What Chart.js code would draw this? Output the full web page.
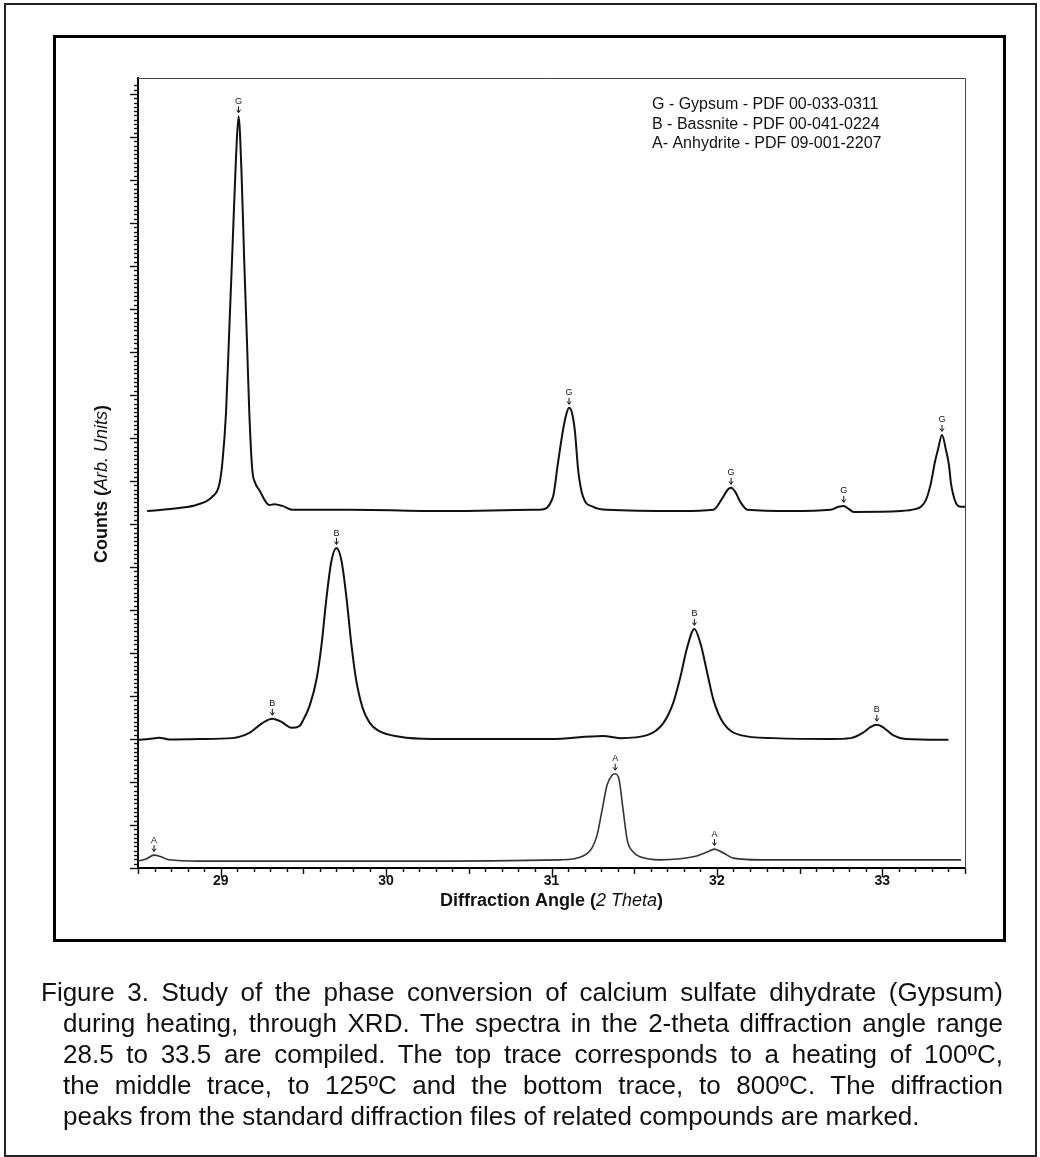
<!DOCTYPE html>
<html>
<head>
<meta charset="utf-8">
<script src="https://cdn.jsdelivr.net/npm/chart.js@4.4.1/dist/chart.umd.min.js"></script>
<style>
html, body { margin: 0; padding: 0; background: #fff; }
body { width: 1040px; height: 1157px; position: relative; overflow: hidden; font-family: "Liberation Sans", Arial, sans-serif; }
#outer { position: absolute; left: 4px; top: 3px; width: 1029px; height: 1150px; border: 2px solid #222; }
#frame { position: absolute; left: 53px; top: 35px; width: 947px; height: 901px; border: 3px solid #000; }
#xrd { position: absolute; left: 0; top: 0; }
#caption { position: absolute; left: 63px; top: 977px; width: 940px; font-size: 26px; line-height: 31px; color: #111; }
#caption div { text-align: justify; text-align-last: justify; white-space: nowrap; }
#caption div.first { margin-left: -22px; }
#caption div.last { text-align-last: left; }
</style>
</head>
<body>
<div id="outer"></div>
<div id="frame"></div>
<canvas id="xrd" width="1040" height="1157"></canvas>
<div id="caption">
  <div class="first">Figure 3. Study of the phase conversion of calcium sulfate dihydrate (Gypsum)</div>
  <div>during heating, through XRD. The spectra in the 2-theta diffraction angle range</div>
  <div>28.5 to 33.5 are compiled. The top trace corresponds to a heating of 100ºC,</div>
  <div>the middle trace, to 125ºC and the bottom trace, to 800ºC. The diffraction</div>
  <div class="last">peaks from the standard diffraction files of related compounds are marked.</div>
</div>
<script>
// axis ranges (y in arbitrary count units)
var xMin = 28.5, xMax = 33.5;
var yMin = 0, yMax = 183.7;
var xTickLabels = [29, 30, 31, 32, 33];

// top trace - 100 C (gypsum)
var gypsumX = [28.555, 28.748, 28.852, 28.948, 28.991, 29.010, 29.032, 29.052, 29.072, 29.092, 29.108, 29.126,
  29.142, 29.159, 29.173, 29.191, 29.209, 29.233, 29.294, 29.324, 29.373, 29.433, 29.779, 30.385, 30.888,
  30.930, 31.009, 31.039, 31.070, 31.088, 31.106, 31.124, 31.142, 31.161, 31.191, 31.252, 31.336, 31.779,
  31.979, 32.033, 32.064, 32.086, 32.112, 32.142, 32.185, 32.445, 32.688, 32.736, 32.767, 32.797, 32.827,
  33.112, 33.203, 33.233, 33.264, 33.294, 33.318, 33.336, 33.361, 33.385, 33.403, 33.415, 33.445, 33.476, 33.5];
var gypsumY = [83.0, 83.7, 84.4, 86.3, 89.1, 94.2, 105.8, 125.3, 144.9, 164.7, 174.8, 161.6,
  141.4, 122.3, 105.8, 92.6, 89.5, 87.9, 84.4, 84.6, 84.2, 83.3, 83.3, 83.0, 83.3,
  83.3, 86.3, 94.2, 101.9, 105.3, 107.0, 105.8, 101.4, 92.6, 86.3, 84.0, 83.3, 83.0,
  83.3, 86.0, 87.9, 88.4, 87.4, 85.1, 83.3, 83.0, 83.3, 84.0, 84.2, 83.5, 82.8,
  83.0, 83.5, 84.0, 85.6, 89.5, 94.4, 97.2, 100.7, 97.2, 93.7, 89.5, 84.9, 84.0, 84.0];

// middle trace - 125 C (bassanite)
var bassaniteX = [28.506, 28.567, 28.627, 28.688, 28.870, 29.070, 29.173, 29.252, 29.312, 29.367, 29.427, 29.476,
  29.500, 29.540, 29.580, 29.610, 29.640, 29.670, 29.700, 29.730, 29.760, 29.790, 29.820, 29.860, 29.900, 29.950,
  30.082, 30.282, 30.688, 30.991, 31.312, 31.415, 31.579, 31.676, 31.736, 31.779, 31.821, 31.864, 31.900,
  31.942, 31.979, 32.039, 32.142, 32.342, 32.688, 32.809, 32.882, 32.930, 32.967, 33.009, 33.064, 33.142, 33.400];
var bassaniteY = [29.8, 30.0, 30.3, 29.9, 30.0, 30.2, 31.4, 33.7, 34.7, 34.0, 32.6, 33.0,
  34.5, 38.0, 44.0, 52.0, 63.0, 71.5, 74.4, 71.5, 63.0, 52.0, 43.5, 37.0, 33.8, 32.0,
  30.5, 30.0, 30.0, 30.0, 30.7, 30.2, 30.9, 33.7, 38.4, 44.4, 51.4, 55.6, 52.3,
  45.3, 39.1, 33.7, 30.9, 30.2, 30.0, 30.2, 31.4, 32.8, 33.3, 32.6, 30.9, 30.0, 29.8];

// bottom trace - 800 C (anhydrite)
var anhydriteX = [28.500, 28.548, 28.597, 28.639, 28.688, 28.870, 30.082, 31.052, 31.191, 31.245, 31.276, 31.306,
  31.336, 31.367, 31.385, 31.409, 31.433, 31.458, 31.494, 31.536, 31.658, 31.858, 31.942, 31.985, 32.039,
  32.100, 32.264, 33.476];
var anhydriteY = [1.6, 2.1, 3.0, 2.6, 1.9, 1.6, 1.6, 1.9, 2.8, 4.7, 7.7, 13.5,
  19.3, 21.6, 21.9, 20.5, 13.5, 6.5, 3.7, 2.6, 1.9, 2.6, 3.7, 4.4, 3.5,
  2.3, 1.9, 1.9];

// reference peak markers
var gMarkX = [29.108, 31.106, 32.086, 32.767, 33.361];
var gMarkY = [174.8, 107.0, 88.4, 84.2, 100.7];
var bMarkX = [29.312, 29.700, 31.864, 32.967];
var bMarkY = [34.7, 74.4, 55.6, 33.3];
var aMarkX = [28.597, 31.385, 31.985];
var aMarkY = [3.0, 21.9, 4.4];

var legendLines = ['G - Gypsum - PDF 00-033-0311', 'B - Bassnite - PDF 00-041-0224', 'A- Anhydrite - PDF 09-001-2207'];

var FONT = '"Liberation Sans", Arial, sans-serif';

function toPoints(xs, ys) {
  return xs.map(function(v, i) { return {x: v, y: ys[i]}; });
}

function isInt(v, tol) {
  return Math.abs(v - Math.round(v)) < (tol || 1e-6);
}

var decor = {
  id: 'decor',
  afterDraw: function(chart) {
    var ctx = chart.ctx, a = chart.chartArea, xs = chart.scales.x, ys = chart.scales.y;
    ctx.save();

    // thin frame on top and right
    ctx.strokeStyle = '#444';
    ctx.lineWidth = 1;
    ctx.beginPath();
    ctx.moveTo(a.left, a.top + 0.5);
    ctx.lineTo(a.right + 0.5, a.top + 0.5);
    ctx.lineTo(a.right + 0.5, a.bottom);
    ctx.stroke();

    // x tick marks (every 0.1)
    ctx.strokeStyle = '#111';
    ctx.lineWidth = 1.4;
    xs.ticks.forEach(function(t) {
      var k = t.value * 10;
      if (!isInt(k, 1e-4)) return;
      k = Math.round(k);
      var len = k % 10 === 0 ? 9 : (k % 5 === 0 ? 6 : 4);
      var px = Math.round(xs.getPixelForValue(t.value)) + 0.5;
      ctx.beginPath();
      ctx.moveTo(px, a.bottom);
      ctx.lineTo(px, a.bottom + len);
      ctx.stroke();
    });

    // y tick marks
    ys.ticks.forEach(function(t) {
      if (!isInt(t.value, 1e-4)) return;
      var len = Math.round(t.value) % 10 === 0 ? 8 : 4;
      var py = Math.round(ys.getPixelForValue(t.value)) + 0.5;
      ctx.beginPath();
      ctx.moveTo(a.left, py);
      ctx.lineTo(a.left - len, py);
      ctx.stroke();
    });

    // peak markers
    function marks(letter, mx, my) {
      mx.forEach(function(v, i) {
        var px = xs.getPixelForValue(v), py = ys.getPixelForValue(my[i]);
        ctx.fillStyle = '#111';
        ctx.font = '9px ' + FONT;
        ctx.textAlign = 'center';
        ctx.textBaseline = 'middle';
        ctx.fillText(letter, px, py - 15);
        ctx.lineWidth = 1;
        ctx.strokeStyle = '#111';
        ctx.beginPath();
        ctx.moveTo(px, py - 10);
        ctx.lineTo(px, py - 4);
        ctx.moveTo(px - 2, py - 6.5);
        ctx.lineTo(px, py - 3.5);
        ctx.lineTo(px + 2, py - 6.5);
        ctx.stroke();
      });
    }
    marks('G', gMarkX, gMarkY);
    marks('B', bMarkX, bMarkY);
    marks('A', aMarkX, aMarkY);

    // legend text
    ctx.fillStyle = '#111';
    ctx.font = '16px ' + FONT;
    ctx.textAlign = 'left';
    ctx.textBaseline = 'middle';
    legendLines.forEach(function(s, i) {
      ctx.fillText(s, 652, 105 + i * 19.5);
    });

    // axis titles with mixed bold / italic parts
    function mixed(parts, cx, cy) {
      var w = 0;
      parts.forEach(function(p) { ctx.font = p[1] + ' 18px ' + FONT; w += ctx.measureText(p[0]).width; });
      var x0 = cx - w / 2;
      ctx.textAlign = 'left';
      ctx.textBaseline = 'middle';
      parts.forEach(function(p) {
        ctx.font = p[1] + ' 18px ' + FONT;
        ctx.fillText(p[0], x0, cy);
        x0 += ctx.measureText(p[0]).width;
      });
    }
    mixed([['Diffraction Angle (', 'bold'], ['2 Theta', 'italic'], [')', 'bold']], (a.left + a.right) / 2, 901);
    ctx.save();
    ctx.translate(102, 484);
    ctx.rotate(-Math.PI / 2);
    mixed([['Counts (', 'bold'], ['Arb. Units', 'italic'], [')', 'bold']], 0, 0);
    ctx.restore();

    ctx.restore();
  }
};

var lineStyle = {borderColor: '#111', borderWidth: 2, pointRadius: 0, cubicInterpolationMode: 'monotone', fill: false};

new Chart(document.getElementById('xrd'), {
  type: 'line',
  data: {
    datasets: [
      Object.assign({label: '100 C', data: toPoints(gypsumX, gypsumY)}, lineStyle),
      Object.assign({label: '125 C', data: toPoints(bassaniteX, bassaniteY)}, lineStyle),
      Object.assign({label: '800 C', data: toPoints(anhydriteX, anhydriteY)}, lineStyle, {borderWidth: 1.6, borderColor: '#333'})
    ]
  },
  options: {
    responsive: false,
    animation: false,
    layout: {padding: {left: 138, top: 78, right: 75, bottom: 259}},
    plugins: {legend: {display: false}, tooltip: {enabled: false}},
    scales: {
      x: {
        type: 'linear',
        min: xMin, max: xMax,
        afterFit: function(s) { s.height = 30; },
        grid: {display: false, drawTicks: false},
        border: {display: true, color: '#000', width: 2},
        ticks: {
          stepSize: 0.1,
          autoSkip: false,
          maxRotation: 0,
          padding: 5,
          color: '#111',
          font: {family: FONT, size: 14, weight: 'bold'},
          callback: function(v) {
            if (!isInt(v, 1e-4)) return '';
            var r = Math.round(v);
            return xTickLabels.indexOf(r) >= 0 ? String(r) : '';
          }
        }
      },
      y: {
        type: 'linear',
        min: yMin, max: yMax,
        afterFit: function(s) { s.width = 0; },
        grid: {display: false, drawTicks: false},
        border: {display: true, color: '#000', width: 2},
        ticks: {display: false, stepSize: 1}
      }
    }
  },
  plugins: [decor]
});
</script>
</body>
</html>
